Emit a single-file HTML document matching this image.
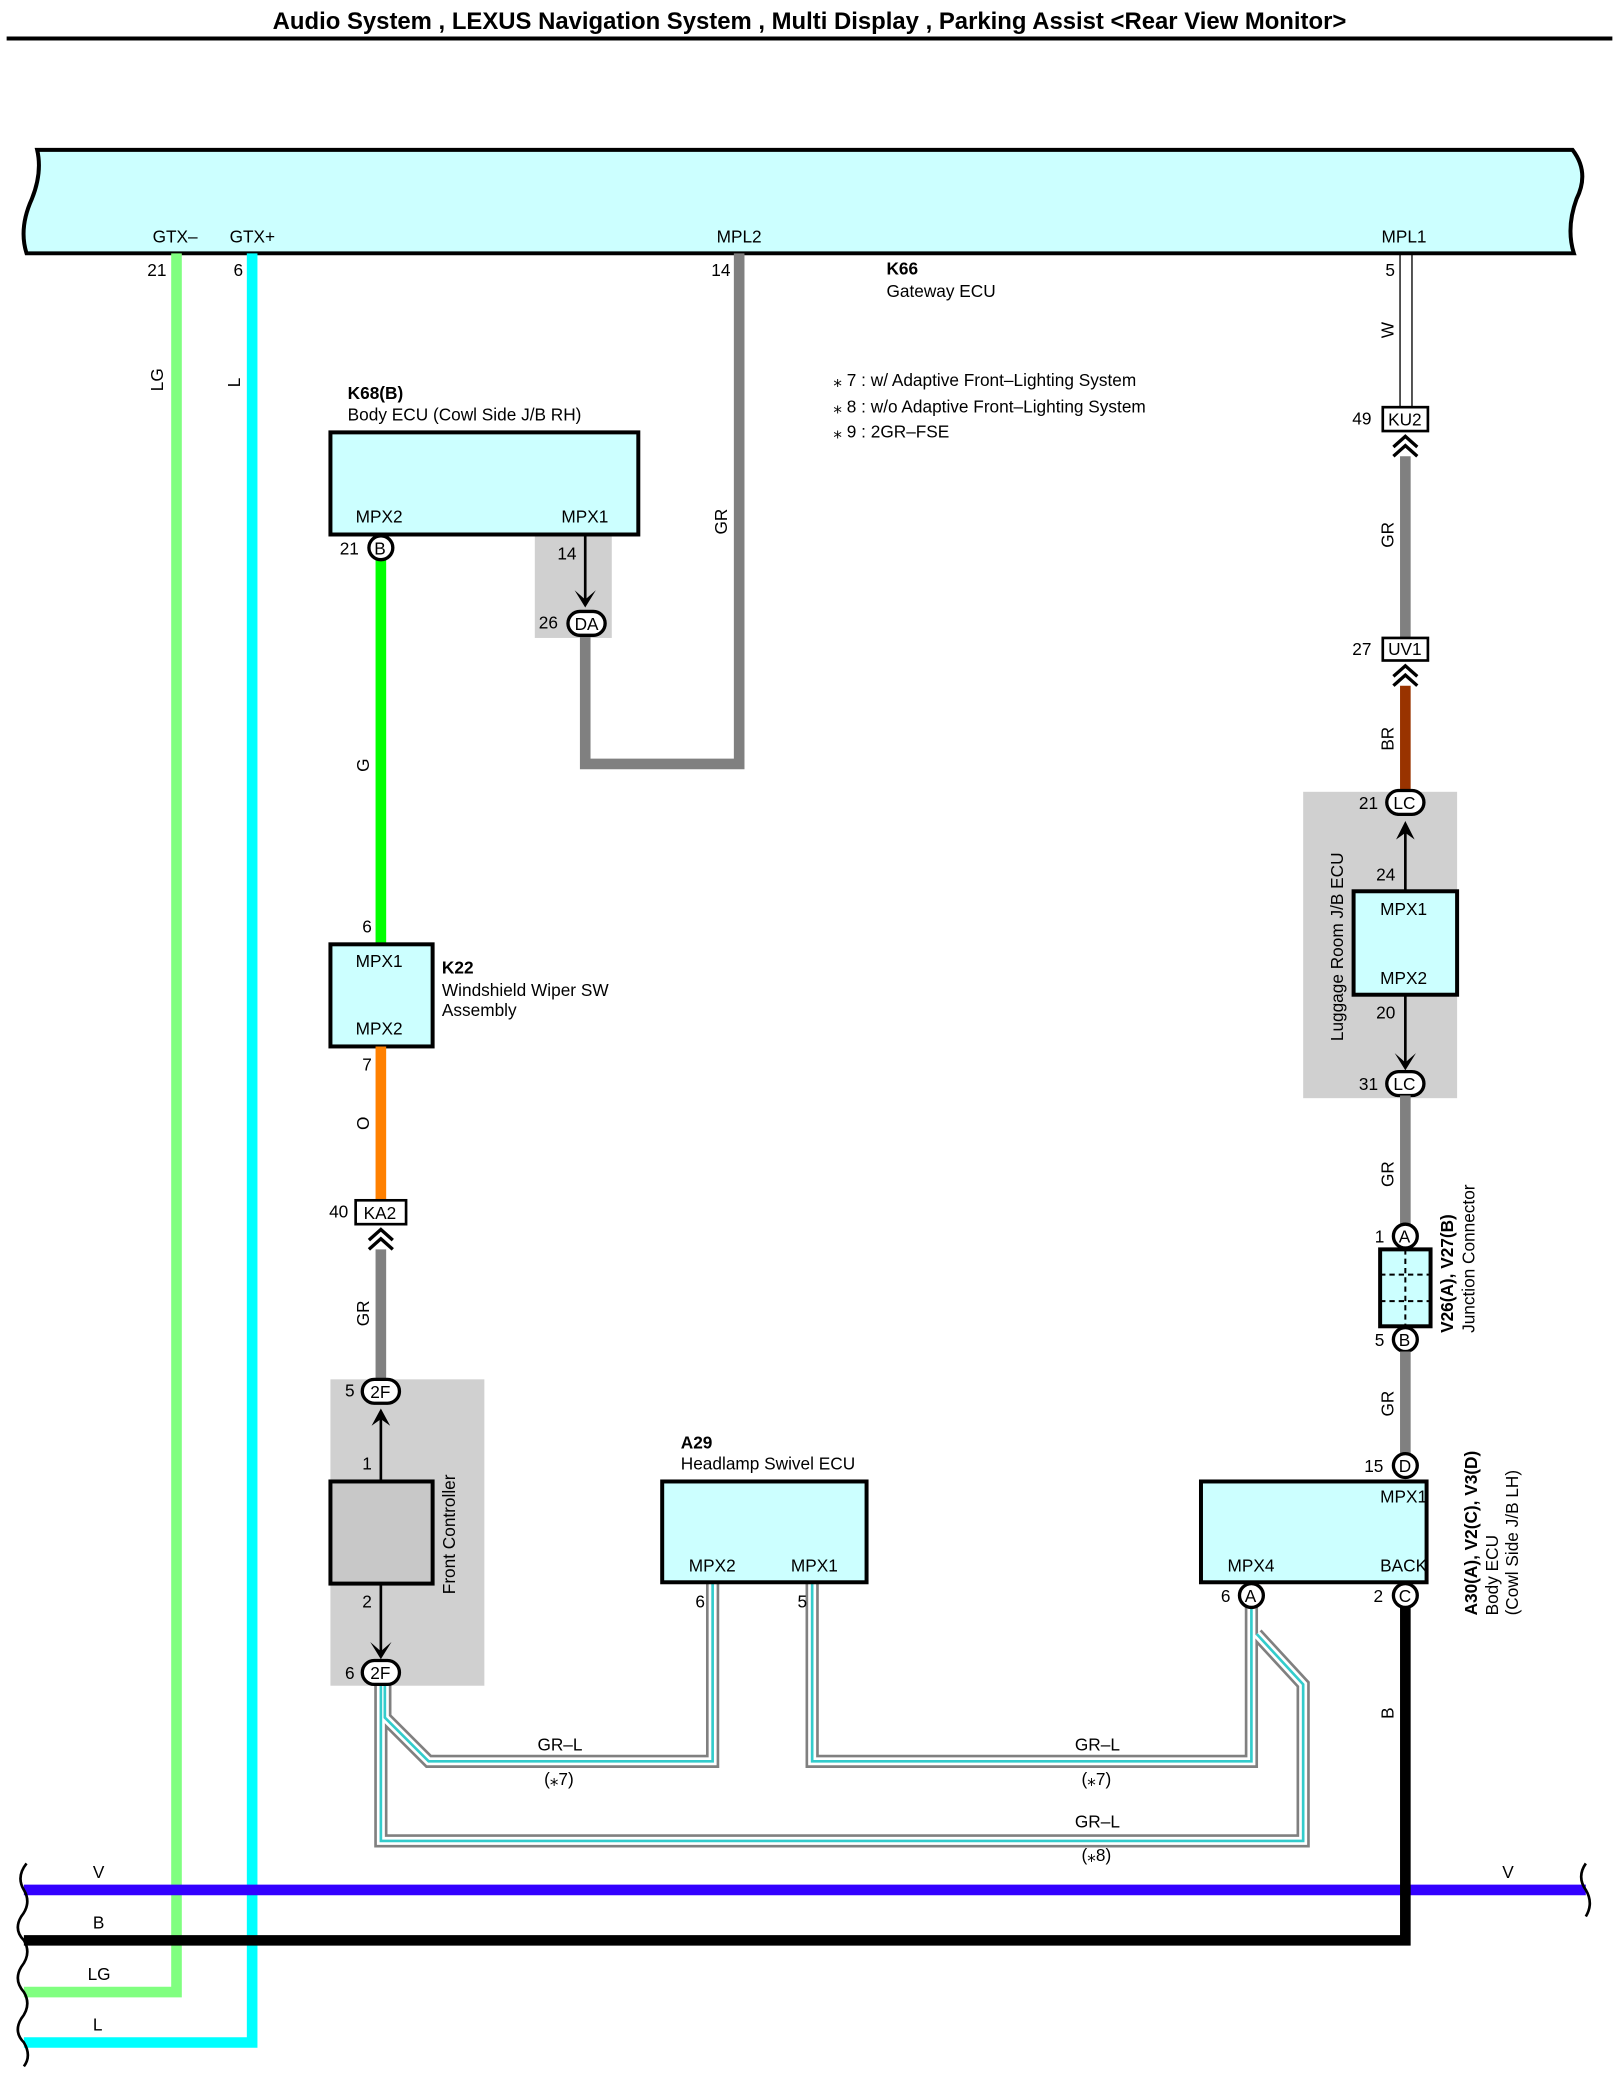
<!DOCTYPE html>
<html><head><meta charset="utf-8"><style>
html,body{margin:0;padding:0;background:#fff}
svg{display:block}
text{font-family:"Liberation Sans",sans-serif;font-size:13px;fill:#000}
.b{font-weight:bold}
</style></head><body>
<svg width="1619" height="2073" viewBox="0 0 1220 1563" preserveAspectRatio="none" xmlns="http://www.w3.org/2000/svg">
<text x="610" y="22" text-anchor="middle" class="b" style="font-size:18px">Audio System , LEXUS Navigation System , Multi Display , Parking Assist &lt;Rear View Monitor&gt;</text>
<line x1="5" y1="29" x2="1215" y2="29" stroke="#000" stroke-width="3"/>
<!-- gateway -->
<path d="M28,113 L1185,113 Q1198,130 1188,150 Q1180,172 1186,191 L20,191 Q14,172 24,150 Q32,130 28,113 Z" fill="#ccffff" stroke="#000" stroke-width="3"/>
<text x="115" y="183">GTX–</text><text x="173" y="183">GTX+</text><text x="540" y="183">MPL2</text><text x="1041" y="183">MPL1</text>
<text x="111" y="208">21</text><text x="176" y="208">6</text><text x="536" y="208">14</text><text x="1044" y="208">5</text>
<text x="668" y="207" class="b">K66</text><text x="668" y="224">Gateway ECU</text>
<text x="628" y="291">⁎ 7 : w/ Adaptive Front–Lighting System</text>
<text x="628" y="311">⁎ 8 : w/o Adaptive Front–Lighting System</text>
<text x="628" y="330">⁎ 9 : 2GR–FSE</text>
<!-- gray boxes -->
<rect x="403" y="403" width="58" height="78" fill="#d0d0d0"/>
<rect x="982" y="597" width="116" height="231" fill="#d0d0d0"/>
<rect x="249" y="1040" width="116" height="231" fill="#d0d0d0"/>
<!-- LG / L -->
<polyline points="133,191 133,1502 18,1502" fill="none" stroke="#80ff80" stroke-width="8"/>
<polyline points="190,191 190,1540 18,1540" fill="none" stroke="#00ffff" stroke-width="8"/>
<text transform="translate(123,295) rotate(-90)">LG</text>
<text transform="translate(181,292) rotate(-90)">L</text>
<!-- MPL2 GR -->
<polyline points="557,191 557,576 441,576 441,478" fill="none" stroke="#808080" stroke-width="8"/>
<text transform="translate(548,403) rotate(-90)">GR</text>
<!-- K68 -->
<text x="262" y="301" class="b">K68(B)</text><text x="262" y="317">Body ECU (Cowl Side J/B RH)</text>
<rect x="249" y="326" width="232" height="77" fill="#ccffff" stroke="#000" stroke-width="3"/>
<text x="268" y="394">MPX2</text><text x="423" y="394">MPX1</text>
<line x1="287" y1="420" x2="287" y2="712" stroke="#00ff00" stroke-width="8"/>
<text transform="translate(278,582) rotate(-90)">G</text>
<text x="256" y="418">21</text><circle cx="287" cy="413" r="9" fill="#fff" stroke="#000" stroke-width="2.5"/><text x="282" y="418">B</text>
<line x1="441" y1="403" x2="441" y2="455" stroke="#000" stroke-width="2"/>
<path d="M433,445 L441,458 L449,445 L441,452 Z" fill="#000"/>
<text x="420" y="422">14</text>
<text x="406" y="474">26</text><rect x="428" y="461" width="28" height="18" rx="9" fill="#fff" stroke="#000" stroke-width="2.5"/><text x="433" y="475">DA</text>
<!-- K22 -->
<text x="273" y="703">6</text>
<rect x="249" y="712" width="77" height="77" fill="#ccffff" stroke="#000" stroke-width="3"/>
<text x="268" y="729">MPX1</text><text x="268" y="780">MPX2</text>
<text x="333" y="734" class="b">K22</text><text x="333" y="751">Windshield Wiper SW</text><text x="333" y="766">Assembly</text>
<line x1="287" y1="789" x2="287" y2="905" stroke="#ff8000" stroke-width="8"/>
<text x="273" y="807">7</text><text transform="translate(278,852) rotate(-90)">O</text>
<text x="248" y="918">40</text><rect x="268" y="905" width="38" height="18" fill="#fff" stroke="#000" stroke-width="2"/><text x="274" y="919">KA2</text>
<path d="M278,935 L287,927 L296,935 M278,942 L287,934 L296,942" fill="none" stroke="#000" stroke-width="2.5"/>
<line x1="287" y1="942" x2="287" y2="1040" stroke="#808080" stroke-width="8"/>
<text transform="translate(278,1000) rotate(-90)">GR</text>
<!-- front controller -->
<text x="260" y="1053">5</text><rect x="273" y="1040" width="28" height="18" rx="9" fill="#fff" stroke="#000" stroke-width="2.5"/><text x="279" y="1054">2F</text>
<path d="M280,1075 L287,1062 L294,1075 L287,1070 Z" fill="#000"/>
<line x1="287" y1="1068" x2="287" y2="1117" stroke="#000" stroke-width="2"/>
<text x="273" y="1108">1</text>
<rect x="249" y="1117" width="77" height="77" fill="#c8c8c8" stroke="#000" stroke-width="3"/>
<text transform="translate(343,1202) rotate(-90)">Front Controller</text>
<line x1="287" y1="1194" x2="287" y2="1248" stroke="#000" stroke-width="2"/>
<path d="M279,1238 L287,1251 L295,1238 L287,1245 Z" fill="#000"/>
<text x="273" y="1212">2</text>
<!-- GR-L wires -->
<g fill="none" stroke-linejoin="miter">
<g stroke="#808080" stroke-width="10">
<polyline points="290,1268 290,1295 323,1328 537,1328 537,1193"/>
<polyline points="612,1193 612,1328 943,1328 943,1210"/>
<polyline points="287,1268 287,1388 982,1388 982,1270 947,1232"/>
</g>
<g stroke="#fff" stroke-width="6">
<polyline points="290,1268 290,1295 323,1328 537,1328 537,1193"/>
<polyline points="612,1193 612,1328 943,1328 943,1210"/>
<polyline points="287,1268 287,1388 982,1388 982,1270 947,1232"/>
</g>
<g stroke="#33cccc" stroke-width="2">
<polyline points="290,1268 290,1295 323,1328 537,1328 537,1193"/>
<polyline points="612,1193 612,1328 943,1328 943,1210"/>
<polyline points="287,1268 287,1388 982,1388 982,1270 947,1232"/>
</g>
</g>
<text x="260" y="1266">6</text><rect x="273" y="1252" width="28" height="18" rx="9" fill="#fff" stroke="#000" stroke-width="2.5"/><text x="279" y="1266">2F</text>
<text x="405" y="1320">GR–L</text><text x="410" y="1346">(⁎7)</text>
<text x="810" y="1320">GR–L</text><text x="815" y="1346">(⁎7)</text>
<text x="810" y="1378">GR–L</text><text x="815" y="1403">(⁎8)</text>
<!-- A29 -->
<text x="513" y="1092" class="b">A29</text><text x="513" y="1108">Headlamp Swivel ECU</text>
<rect x="499" y="1117" width="154" height="76" fill="#ccffff" stroke="#000" stroke-width="3"/>
<text x="519" y="1185">MPX2</text><text x="596" y="1185">MPX1</text>
<text x="524" y="1212">6</text><text x="601" y="1212">5</text>
<!-- right side -->
<line x1="1055" y1="191" x2="1055" y2="307" stroke="#000" stroke-width="1"/>
<line x1="1064" y1="191" x2="1064" y2="307" stroke="#000" stroke-width="1"/>
<text transform="translate(1050,255) rotate(-90)">W</text>
<text x="1019" y="320">49</text><rect x="1042" y="307" width="34" height="18" fill="#fff" stroke="#000" stroke-width="2"/><text x="1046" y="321">KU2</text>
<path d="M1050,337 L1059,329 L1068,337 M1050,344 L1059,336 L1068,344" fill="none" stroke="#000" stroke-width="2.5"/>
<line x1="1059" y1="344" x2="1059" y2="481" stroke="#808080" stroke-width="8"/>
<text transform="translate(1050,413) rotate(-90)">GR</text>
<text x="1019" y="494">27</text><rect x="1042" y="481" width="34" height="17" fill="#fff" stroke="#000" stroke-width="2"/><text x="1046" y="494">UV1</text>
<path d="M1050,510 L1059,502 L1068,510 M1050,517 L1059,509 L1068,517" fill="none" stroke="#000" stroke-width="2.5"/>
<line x1="1059" y1="517" x2="1059" y2="597" stroke="#993300" stroke-width="8"/>
<text transform="translate(1050,566) rotate(-90)">BR</text>
<text x="1024" y="610">21</text><rect x="1045" y="596" width="28" height="18" rx="9" fill="#fff" stroke="#000" stroke-width="2.5"/><text x="1050" y="610">LC</text>
<path d="M1052,633 L1059,619 L1066,633 L1059,628 Z" fill="#000"/>
<line x1="1059" y1="626" x2="1059" y2="672" stroke="#000" stroke-width="2"/>
<text x="1037" y="664">24</text>
<rect x="1020" y="672" width="78" height="78" fill="#ccffff" stroke="#000" stroke-width="3"/>
<text x="1040" y="690">MPX1</text><text x="1040" y="742">MPX2</text>
<text transform="translate(1012,785) rotate(-90)">Luggage Room J/B ECU</text>
<text x="1037" y="768">20</text>
<line x1="1059" y1="750" x2="1059" y2="803" stroke="#000" stroke-width="2"/>
<path d="M1051,794 L1059,807 L1067,794 L1059,801 Z" fill="#000"/>
<text x="1024" y="822">31</text><rect x="1045" y="808" width="28" height="18" rx="9" fill="#fff" stroke="#000" stroke-width="2.5"/><text x="1050" y="822">LC</text>
<line x1="1059" y1="826" x2="1059" y2="923" stroke="#808080" stroke-width="8"/>
<text transform="translate(1050,895) rotate(-90)">GR</text>
<text x="1036" y="937">1</text><circle cx="1059" cy="932" r="9" fill="#fff" stroke="#000" stroke-width="2.5"/><text x="1054" y="937">A</text>
<rect x="1040" y="942" width="38" height="58" fill="#ccffff" stroke="#000" stroke-width="3"/>
<line x1="1059" y1="942" x2="1059" y2="1000" stroke="#000" stroke-width="1.5" stroke-dasharray="4,3"/>
<line x1="1040" y1="961" x2="1078" y2="961" stroke="#000" stroke-width="1.5" stroke-dasharray="4,3"/>
<line x1="1040" y1="981" x2="1078" y2="981" stroke="#000" stroke-width="1.5" stroke-dasharray="4,3"/>
<text x="1036" y="1015">5</text><circle cx="1059" cy="1010" r="9" fill="#fff" stroke="#000" stroke-width="2.5"/><text x="1054" y="1015">B</text>
<text transform="translate(1095,1005) rotate(-90)" class="b">V26(A), V27(B)</text>
<text transform="translate(1111,1005) rotate(-90)">Junction Connector</text>
<line x1="1059" y1="1019" x2="1059" y2="1096" stroke="#808080" stroke-width="8"/>
<text transform="translate(1050,1068) rotate(-90)">GR</text>
<text x="1028" y="1110">15</text><circle cx="1059" cy="1105" r="9" fill="#fff" stroke="#000" stroke-width="2.5"/><text x="1054" y="1110">D</text>
<rect x="905" y="1117" width="170" height="76" fill="#ccffff" stroke="#000" stroke-width="3"/>
<text x="1040" y="1133">MPX1</text><text x="925" y="1185">MPX4</text><text x="1040" y="1185">BACK</text>
<text x="920" y="1208">6</text><circle cx="943" cy="1203" r="9" fill="#fff" stroke="#000" stroke-width="2.5"/><text x="938" y="1208">A</text>
<text x="1035" y="1208">2</text>
<text transform="translate(1113,1218) rotate(-90)" class="b">A30(A), V2(C), V3(D)</text>
<text transform="translate(1129,1218) rotate(-90)">Body ECU</text>
<text transform="translate(1144,1218) rotate(-90)">(Cowl Side J/B LH)</text>
<!-- buses -->
<line x1="18" y1="1425" x2="1195" y2="1425" stroke="#3300ff" stroke-width="8"/>
<polyline points="1059,1210 1059,1463 18,1463" fill="none" stroke="#000" stroke-width="8"/>
<circle cx="1059" cy="1203" r="9" fill="#fff" stroke="#000" stroke-width="2.5"/><text x="1054" y="1208">C</text>
<text transform="translate(1050,1296) rotate(-90)">B</text>
<text x="70" y="1416">V</text><text x="1132" y="1416">V</text>
<text x="70" y="1454">B</text><text x="66" y="1493">LG</text><text x="70" y="1531">L</text>
<path d="M20,1405 Q12,1415 18,1425 Q24,1435 16,1445 Q10,1455 18,1463 Q24,1473 16,1483 Q10,1493 18,1502 Q24,1512 16,1522 Q10,1532 18,1540 Q24,1550 18,1558" fill="none" stroke="#000" stroke-width="2"/>
<path d="M1195,1405 Q1188,1415 1195,1425 Q1201,1435 1195,1445" fill="none" stroke="#000" stroke-width="2"/>
</svg>
</body></html>
